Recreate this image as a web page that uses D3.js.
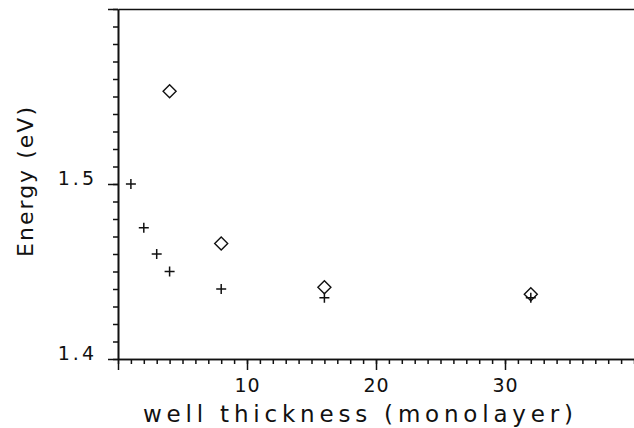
<!DOCTYPE html>
<html>
<head>
<meta charset="utf-8">
<script src="https://cdn.jsdelivr.net/npm/d3@7"></script>
<style>
  html, body { margin: 0; padding: 0; background: #fff; }
  svg { display: block; }
  text { font-family: "DejaVu Sans", sans-serif; fill: #111; }
</style>
</head>
<body>
<svg id="chart" width="634" height="428"></svg>
<script>
// ---- data ----
const crossX = [1, 2, 3, 4, 8, 16, 32];
const crossY = [1.500, 1.475, 1.460, 1.450, 1.440, 1.435, 1.435];
const diamondX = [4, 8, 16, 32];
const diamondY = [1.553, 1.466, 1.441, 1.437];
const xTickLabels = [10, 20, 30];
const yTickLabels = [1.4, 1.5];
const xTitle = "well thickness (monolayer)";
const yTitle = "Energy (eV)";

// ---- layout ----
const svg = d3.select("#chart");
const x = d3.scaleLinear().domain([0, 40]).range([118, 634]);
const y = d3.scaleLinear().domain([1.4, 1.6]).range([359, 9]);
const ink = "#111";

function styleAxis(g) {
  g.selectAll("path, line").attr("stroke", ink).attr("stroke-width", 1.5);
  g.select(".domain").attr("stroke-width", 1.6);
}

// x axis: minor ticks
svg.append("g").attr("transform", `translate(0,${y(1.4)})`)
  .call(d3.axisBottom(x).tickValues(d3.range(0, 41, 1)).tickSize(5).tickSizeOuter(0).tickFormat(""))
  .call(styleAxis);
// x axis: major ticks + labels
const xMajor = svg.append("g").attr("transform", `translate(0,${y(1.4)})`)
  .call(d3.axisBottom(x).tickValues([0, 10, 20, 30]).tickSize(11).tickSizeOuter(0).tickPadding(10)
    .tickFormat(d => xTickLabels.includes(d) ? String(d) : ""))
  .call(styleAxis);
xMajor.selectAll("text").attr("font-size", 19).attr("fill", ink).attr("y", 0).attr("dy", "33")
  .attr("font-family", "DejaVu Sans, sans-serif").attr("letter-spacing", 1);

// y axis: minor ticks
svg.append("g").attr("transform", `translate(${x(0)},0)`)
  .call(d3.axisLeft(y).tickValues(d3.range(0, 21).map(i => 1.4 + i * 0.01)).tickSize(5).tickSizeOuter(0).tickFormat(""))
  .call(styleAxis);
// y axis: major ticks + labels
const yMajor = svg.append("g").attr("transform", `translate(${x(0)},0)`)
  .call(d3.axisLeft(y).tickValues([1.4, 1.5, 1.6]).tickSize(10).tickSizeOuter(0).tickPadding(11)
    .tickFormat(d => yTickLabels.some(v => Math.abs(v - d) < 1e-9) ? d3.format(".1f")(d) : ""))
  .call(styleAxis);
yMajor.selectAll("text").attr("font-size", 19).attr("fill", ink).attr("dy", "0")
  .attr("font-family", "DejaVu Sans, sans-serif").attr("letter-spacing", 3);

// top frame line
svg.append("g").attr("transform", `translate(0,${y(1.6)})`)
  .call(d3.axisTop(x).tickValues([]).tickSizeOuter(0))
  .call(styleAxis);

// axis titles
svg.append("text")
  .attr("x", 358).attr("y", 422)
  .attr("text-anchor", "middle")
  .attr("font-size", 23)
  .attr("textLength", 430).attr("lengthAdjust", "spacing")
  .text(xTitle);

svg.append("text")
  .attr("transform", `translate(33,182) rotate(-90)`)
  .attr("text-anchor", "middle")
  .attr("font-size", 22)
  .attr("textLength", 150).attr("lengthAdjust", "spacing")
  .text(yTitle);

// markers
const crosses = crossX.map((d, i) => ({ x: d, y: crossY[i] }));
const diamonds = diamondX.map((d, i) => ({ x: d, y: diamondY[i] }));
const cs = 5, ds = 6.5;

svg.append("g").selectAll("path").data(crosses).join("path")
  .attr("transform", d => `translate(${x(d.x)},${y(d.y)})`)
  .attr("d", `M${-cs},0H${cs}M0,${-cs}V${cs}`)
  .attr("stroke", ink).attr("stroke-width", 1.5).attr("fill", "none");

svg.append("g").selectAll("path").data(diamonds).join("path")
  .attr("transform", d => `translate(${x(d.x)},${y(d.y)})`)
  .attr("d", `M0,${-ds}L${ds},0L0,${ds}L${-ds},0Z`)
  .attr("stroke", ink).attr("stroke-width", 1.4).attr("fill", "none");
</script>
</body>
</html>
